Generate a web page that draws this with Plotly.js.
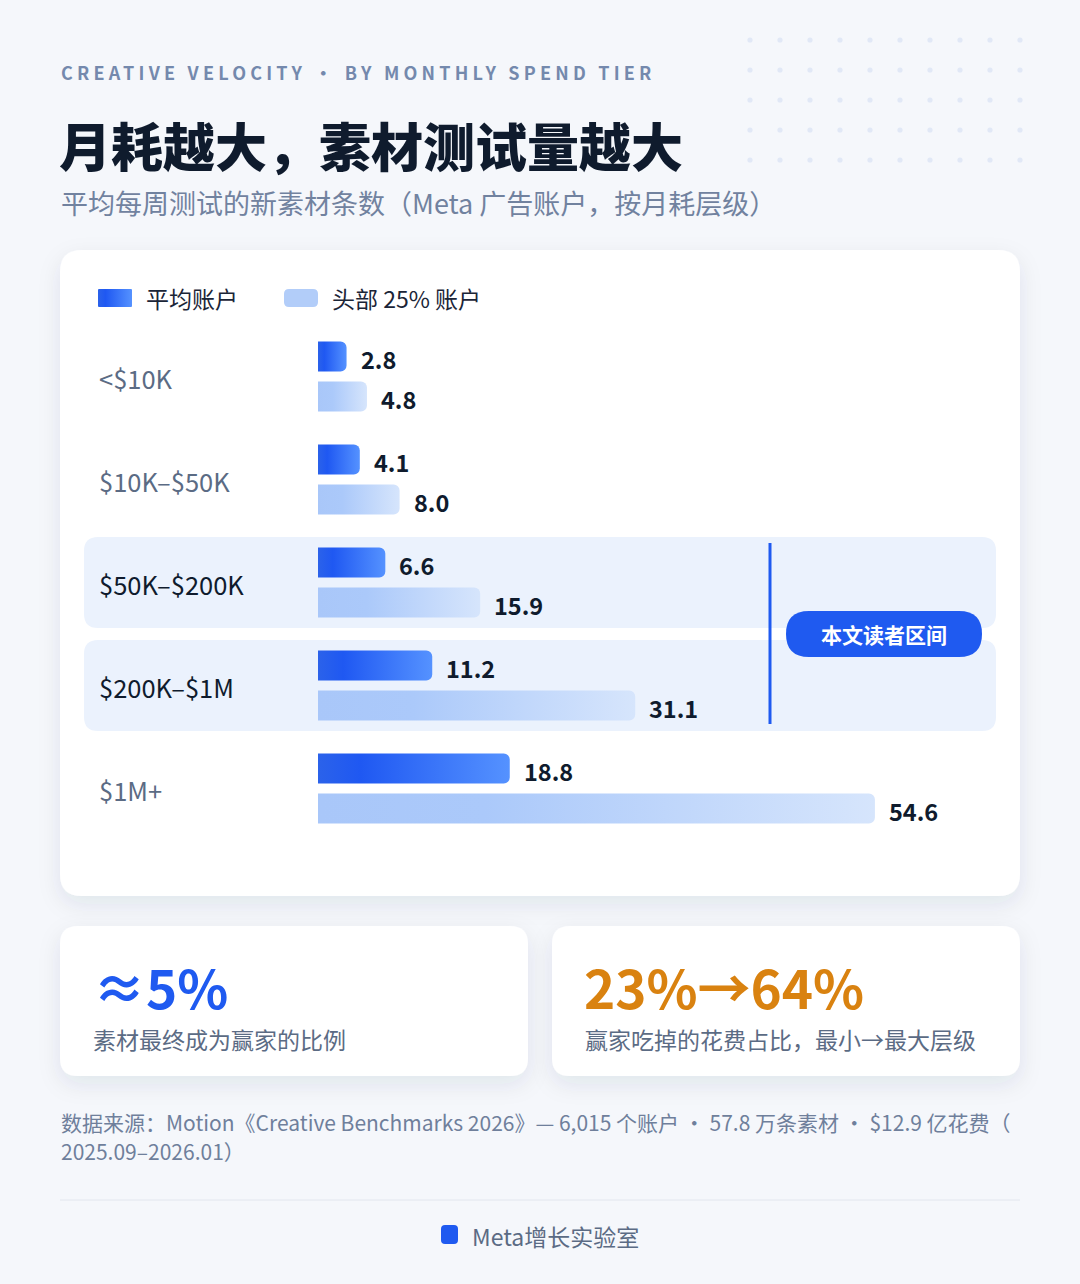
<!DOCTYPE html>
<html><head><meta charset="utf-8">
<script src="https://cdn.plot.ly/plotly-3.0.1.min.js"></script>
<style>html,body{margin:0;padding:0;background:#f5f7fb;}#chart{width:1080px;height:1284px;}</style>
</head><body><div id="chart"></div>
<script>
// ---- data ----
const tiers = ['<$10K', '$10K–$50K', '$50K–$200K', '$200K–$1M', '$1M+'];
const avgValues = [2.8, 4.1, 6.6, 11.2, 18.8];
const topValues = [4.8, 8.0, 15.9, 31.1, 54.6];
const seriesNames = ['平均账户', '头部 25% 账户'];
const highlightTiers = ['$50K–$200K', '$200K–$1M'];
const highlightLabel = '本文读者区间';
const statValues = ['≈5%', '23%→64%'];
const statLabels = ['素材最终成为赢家的比例', '赢家吃掉的花费占比，最小→最大层级'];
const kicker = 'CREATIVE VELOCITY • BY MONTHLY SPEND TIER';
const titleText = '月耗越大，素材测试量越大';
const subtitleText = '平均每周测试的新素材条数（Meta 广告账户，按月耗层级）';
const sourceLines = ['数据来源：Motion《Creative Benchmarks 2026》— 6,015 个账户 · 57.8 万条素材 · $12.9 亿花费（', '2025.09–2026.01）'];
const brandText = 'Meta增长实验室';

// ---- layout helpers ----
const W = 1080, H = 1284;
const FONT = 'Noto Sans CJK SC, Noto Sans, sans-serif';
const BLUE = '#1f5af0';
const px = x => x / W;
const py = y => 1 - y / H;
const ROW_TOP = 325, ROW_H = 103;
const rowCenter = i => ROW_TOP + (i + 0.5) * ROW_H;
function rr(x0, y0, x1, y1, r) {
  const P = (x, y) => px(x) + ',' + py(y);
  return 'M' + P(x0 + r, y0) + ' L' + P(x1 - r, y0) + ' Q' + P(x1, y0) + ' ' + P(x1, y0 + r) +
    ' L' + P(x1, y1 - r) + ' Q' + P(x1, y1) + ' ' + P(x1 - r, y1) +
    ' L' + P(x0 + r, y1) + ' Q' + P(x0, y1) + ' ' + P(x0, y1 - r) +
    ' L' + P(x0, y0 + r) + ' Q' + P(x0, y0) + ' ' + P(x0 + r, y0) + ' Z';
}
function rshape(x0, y0, x1, y1, r, fill) {
  return {type: 'path', xref: 'paper', yref: 'paper', path: rr(x0, y0, x1, y1, r), fillcolor: fill, line: {width: 0}, layer: 'below'};
}

const shapes = [];
const shadowIdx = [];
shadowIdx.push(shapes.length); shapes.push(rshape(60, 250, 1020, 896, 22, '#ffffff'));
shadowIdx.push(shapes.length); shapes.push(rshape(60, 926, 528, 1076, 18, '#ffffff'));
shadowIdx.push(shapes.length); shapes.push(rshape(552, 926, 1020, 1076, 18, '#ffffff'));
const hiIdx = highlightTiers.map(t => tiers.indexOf(t));
hiIdx.forEach(i => shapes.push(rshape(84, rowCenter(i) - 45.5, 996, rowCenter(i) + 45.5, 14, '#ebf2fd')));
const hTop = rowCenter(Math.min(...hiIdx)) - 39.5, hBot = rowCenter(Math.max(...hiIdx)) + 38.5;
shapes.push({type: 'line', xref: 'paper', yref: 'paper', x0: px(770), x1: px(770), y0: py(hTop), y1: py(hBot), line: {color: BLUE, width: 3}, layer: 'below'});
const pillY = (hTop + hBot) / 2 + 0.5;
shapes.push(rshape(786, pillY - 23, 982, pillY + 23, 23, BLUE));
const legendDarkIdx = shapes.length;
shapes.push(rshape(98, 289, 132, 307, 1, '#2a64f0'));
shapes.push(rshape(284, 289, 318, 307, 5, '#b2cdf9'));
shapes.push({type: 'line', xref: 'paper', yref: 'paper', x0: px(60), x1: px(1020), y0: py(1200), y1: py(1200), line: {color: '#e2e6ee', width: 1}, layer: 'below'});
shapes.push(rshape(441, 1225, 458, 1244, 4, BLUE));
for (let j = 0; j < 5; j++) for (let k = 0; k < 10; k++) {
  const cx = 750 + 30 * k, cy = 40 + 30 * j, r = 2.6;
  shapes.push({type: 'circle', xref: 'paper', yref: 'paper', x0: px(cx - r), x1: px(cx + r), y0: py(cy + r), y1: py(cy - r), fillcolor: '#e1e8f6', line: {width: 0}, layer: 'below'});
}

function txt(text, x, y, size, color, opts) {
  return Object.assign({xref: 'paper', yref: 'paper', x: px(x), y: py(y), text: text, showarrow: false,
    xanchor: 'left', yanchor: 'middle', align: 'left', borderpad: 0,
    font: {family: FONT, size: size, color: color}}, opts || {});
}
const annotations = [];
annotations.push(txt(kicker, 60, 72, 18, '#7489ad', {font: {family: FONT, size: 18, color: '#7489ad', weight: 700}}));
annotations.push(txt(titleText, 58, 144, 52, '#0f1b2d', {font: {family: FONT, size: 52, color: '#0f1b2d', weight: 900}}));
annotations.push(txt(subtitleText, 60, 203, 27, '#71829f'));
annotations.push(txt(seriesNames[0], 145, 298, 23, '#1b2537'));
annotations.push(txt(seriesNames[1], 331, 298, 23, '#1b2537'));
tiers.forEach((t, i) => {
  const hi = highlightTiers.includes(t);
  annotations.push({xref: 'paper', yref: 'y', x: px(98), y: t, yshift: -1, text: t, showarrow: false, xanchor: 'left', yanchor: 'middle', borderpad: 0,
    font: {family: FONT, size: 25.5, color: hi ? '#0f1b2d' : '#5b6b84'}});
});
function valLabel(v, t, ys) {
  return {xref: 'x', yref: 'y', x: v, y: t, xshift: 13, yshift: ys, text: v.toFixed(1), showarrow: false, xanchor: 'left', yanchor: 'middle', borderpad: 0,
    font: {family: FONT, size: 23.5, color: '#0f1b2d', weight: 700}};
}
tiers.forEach((t, i) => {
  annotations.push(valLabel(avgValues[i], t, 18));
  annotations.push(valLabel(topValues[i], t, -22));
});
annotations.push(txt(highlightLabel, 884, pillY, 21, '#ffffff', {xanchor: 'center', align: 'center', font: {family: FONT, size: 21, color: '#ffffff', weight: 700}}));
annotations.push(txt(statValues[0], 92, 986, 53, BLUE, {font: {family: FONT, size: 53, color: BLUE, weight: 700}}));
annotations.push(txt(statValues[1], 583, 986, 53, '#d98210', {font: {family: FONT, size: 53, color: '#d98210', weight: 700}}));
annotations.push(txt(statLabels[0], 92, 1039, 23, '#5b6b84'));
annotations.push(txt(statLabels[1], 584, 1039, 23, '#5b6b84'));
annotations.push(txt(sourceLines[0], 60, 1122, 21, '#6f7f9b'));
annotations.push(txt(sourceLines[1], 60, 1151, 21, '#6f7f9b'));
annotations.push(txt(brandText, 471, 1236, 23, '#5b6b84'));

const data = [
  {type: 'bar', orientation: 'h', name: seriesNames[0], y: tiers, x: avgValues, marker: {color: '#2a64f0'}, hoverinfo: 'skip', showlegend: false},
  {type: 'bar', orientation: 'h', name: seriesNames[1], y: tiers, x: topValues, marker: {color: '#b3cdf9'}, hoverinfo: 'skip', showlegend: false}
];
const layout = {
  width: W, height: H, margin: {l: 0, r: 0, t: 0, b: 0},
  paper_bgcolor: '#f5f7fb', plot_bgcolor: 'rgba(0,0,0,0)',
  barmode: 'group', bargap: 0.223, bargroupgap: 0.25, barcornerradius: 6,
  xaxis: {domain: [px(318), 1], range: [0, (W - 318) / 10.2], visible: false, fixedrange: true},
  yaxis: {domain: [py(ROW_TOP + 5 * ROW_H), py(ROW_TOP)], type: 'category', categoryorder: 'array', categoryarray: tiers,
    range: [4.5, -0.5], visible: false, fixedrange: true},
  shapes: shapes, annotations: annotations, showlegend: false,
  font: {family: FONT}
};
const gd = document.getElementById('chart');
Plotly.newPlot(gd, data, layout, {staticPlot: true, displayModeBar: false}).then(() => {
  const NS = 'http://www.w3.org/2000/svg';
  const svg = gd.querySelector('svg.main-svg');
  const defs = document.createElementNS(NS, 'defs');
  svg.insertBefore(defs, svg.firstChild);
  function grad(id, stops) {
    const g = document.createElementNS(NS, 'linearGradient');
    g.setAttribute('id', id); g.setAttribute('x1', '0'); g.setAttribute('x2', '1'); g.setAttribute('y1', '0'); g.setAttribute('y2', '0');
    stops.forEach(s => { const st = document.createElementNS(NS, 'stop'); st.setAttribute('offset', s[0]); st.setAttribute('stop-color', s[1]); g.appendChild(st); });
    defs.appendChild(g);
  }
  grad('gDark', [[0, '#2b62ea'], [0.22, '#1f58f2'], [1, '#5592ff']]);
  grad('gLight', [[0, '#a9c7f9'], [0.3, '#abc9fa'], [1, '#d6e5fc']]);
  const f = document.createElementNS(NS, 'filter');
  f.setAttribute('id', 'cardShadow'); f.setAttribute('x', '-10%'); f.setAttribute('y', '-15%'); f.setAttribute('width', '120%'); f.setAttribute('height', '140%');
  const ds = document.createElementNS(NS, 'feDropShadow');
  ds.setAttribute('dx', '0'); ds.setAttribute('dy', '8'); ds.setAttribute('stdDeviation', '11');
  ds.setAttribute('flood-color', '#1e2a4a'); ds.setAttribute('flood-opacity', '0.09');
  f.appendChild(ds); defs.appendChild(f);
  const traces = gd.querySelectorAll('.barlayer .trace');
  if (traces[0]) traces[0].querySelectorAll('path').forEach(p => p.style.fill = 'url(#gDark)');
  if (traces[1]) traces[1].querySelectorAll('path').forEach(p => p.style.fill = 'url(#gLight)');
  shadowIdx.forEach(i => gd.querySelectorAll('.shapelayer path[data-index="' + i + '"]').forEach(p => p.setAttribute('filter', 'url(#cardShadow)')));
  gd.querySelectorAll('.shapelayer path[data-index="' + legendDarkIdx + '"]').forEach(p => p.style.fill = 'url(#gDark)');
  const k = gd.querySelector('.annotation[data-index="0"] text');
  if (k) k.setAttribute('letter-spacing', '4.2');
});
</script></body></html>
